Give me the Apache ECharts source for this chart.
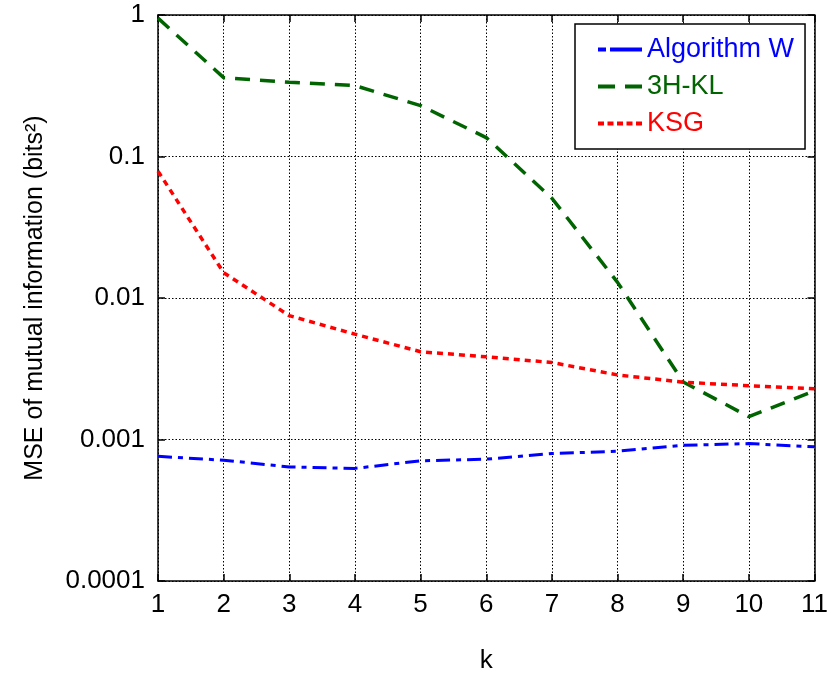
<!DOCTYPE html>
<html>
<head>
<meta charset="utf-8">
<script src="https://cdn.jsdelivr.net/npm/echarts@6/dist/echarts.min.js"></script>
<style>html,body{margin:0;padding:0;background:#fff;}#c{width:831px;height:679px;}</style>
</head>
<body>
<div id="c"></div>
<script>
var kValues = [1, 2, 3, 4, 5, 6, 7, 8, 9, 10, 11];
var xTickLabels = ['1','2','3','4','5','6','7','8','9','10','11'];
var yTickLabels = ['0.0001','0.001','0.01','0.1','1'];
var seriesNames = ['Algorithm W', '3H-KL', 'KSG'];
var algorithmW = [0.00076, 0.000714, 0.00064, 0.000625, 0.000707, 0.000726, 0.000796, 0.000826, 0.00091, 0.000936, 0.000887];
var h3kl = [0.95, 0.361, 0.335, 0.317, 0.229, 0.136, 0.0507, 0.0129, 0.00255, 0.00145, 0.00221];
var ksg = [0.0788, 0.0151, 0.0075, 0.00555, 0.00417, 0.00384, 0.0035, 0.00286, 0.00254, 0.0024, 0.00228];

function pairs(arr){ return kValues.map(function(k,i){ return [k, arr[i]]; }); }

var FONT = 'Liberation Sans, Arial, sans-serif';
var colors = ['#0000ff', '#006400', '#ff0000'];
var legendIcons = [
  'path://M0,0h8v4h-8zM12,0h32v4h-32z',
  'path://M0,0h17v4h-17zM27,0h17v4h-17z',
  'path://M0,0h6v4h-6zM9.5,0h6v4h-6zM19,0h6v4h-6zM28.5,0h6v4h-6zM38,0h6v4h-6z'
];

var chart = echarts.init(document.getElementById('c'), null, {renderer:'canvas'});

function yLabel(v){
  var e = Math.round(Math.log10(v));
  return yTickLabels[e + 4] || '';
}
function xLabel(v){
  var i = Math.round(v) - 1;
  return xTickLabels[i] || '';
}

var option = {
  backgroundColor: '#fff',
  animation: false,
  textStyle: {fontFamily: FONT},
  grid: {left: 158, right: 14, top: 15, bottom: 96, containLabel: false},
  legend: {
    orient: 'vertical',
    left: 575, top: 24,
    padding: [12, 11, 12, 23],
    itemGap: 10,
    itemWidth: 44, itemHeight: 4,
    backgroundColor: '#fff',
    borderColor: '#000', borderWidth: 1.5,
    textStyle: {fontSize: 27, fontFamily: FONT},
    data: seriesNames.map(function(n,i){ return {name: n, icon: legendIcons[i], itemStyle: {color: colors[i], borderWidth: 0}, textStyle: {color: colors[i]}}; }),
    selectedMode: false
  },
  xAxis: [{
    type: 'value', min: 1, max: 11, interval: 1, position: 'bottom',
    name: 'k', nameLocation: 'middle', nameGap: 67,
    nameTextStyle: {fontSize: 26, color: '#000', fontFamily: FONT},
    axisLine: {show: true, onZero: false, lineStyle: {color: '#000', width: 1.5}},
    axisTick: {show: true, inside: true, length: 7, lineStyle: {color: '#000', width: 1.5}},
    axisLabel: {fontSize: 26, color: '#000', margin: 11, formatter: xLabel, fontFamily: FONT},
    splitLine: {show: true, lineStyle: {color: '#000', type: [1.5, 2], width: 1}}
  }, {
    type: 'value', min: 1, max: 11, interval: 1, position: 'top',
    axisLine: {show: true, onZero: false, lineStyle: {color: '#000', width: 1.5}},
    axisTick: {show: true, inside: true, length: 7, lineStyle: {color: '#000', width: 1.5}},
    axisLabel: {show: false},
    splitLine: {show: false}
  }],
  yAxis: [{
    type: 'log', logBase: 10, min: 0.0001, max: 1, position: 'left',
    name: 'MSE of mutual information (bits²)', nameLocation: 'middle', nameGap: 110,
    nameTextStyle: {fontSize: 25, color: '#000', fontFamily: FONT},
    axisLine: {show: true, onZero: false, lineStyle: {color: '#000', width: 1.5}},
    axisTick: {show: true, inside: true, length: 7, lineStyle: {color: '#000', width: 1.5}},
    minorTick: {show: false},
    axisLabel: {fontSize: 26, color: '#000', margin: 13, formatter: yLabel, fontFamily: FONT},
    splitLine: {show: true, lineStyle: {color: '#000', type: [1.5, 2], width: 1}}
  }, {
    type: 'log', logBase: 10, min: 0.0001, max: 1, position: 'right',
    axisLine: {show: true, onZero: false, lineStyle: {color: '#000', width: 1.5}},
    axisTick: {show: true, inside: true, length: 7, lineStyle: {color: '#000', width: 1.5}},
    axisLabel: {show: false},
    splitLine: {show: false}
  }],
  series: [{
    name: seriesNames[0], type: 'line', data: pairs(algorithmW),
    symbol: 'none', clip: true, z: 3,
    lineStyle: {color: colors[0], width: 3, type: [14, 6, 5, 6]},
    itemStyle: {color: colors[0]}
  }, {
    name: seriesNames[1], type: 'line', data: pairs(h3kl),
    symbol: 'none', clip: true, z: 3,
    lineStyle: {color: colors[1], width: 3.5, type: [15, 10]},
    itemStyle: {color: colors[1]}
  }, {
    name: seriesNames[2], type: 'line', data: pairs(ksg),
    symbol: 'none', clip: true, z: 3,
    lineStyle: {color: colors[2], width: 3.5, type: [6, 5]},
    itemStyle: {color: colors[2]}
  }]
};
chart.setOption(option);
</script>
</body>
</html>
